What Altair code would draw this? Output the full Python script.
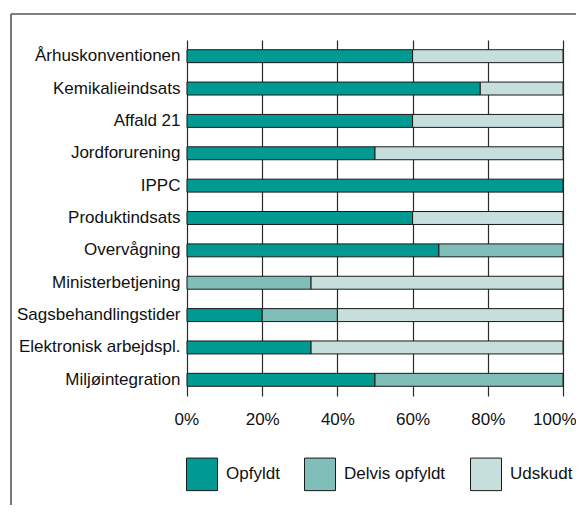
import altair as alt
import pandas as pd

categories = [
    "Århuskonventionen", "Kemikalieindsats", "Affald 21", "Jordforurening", "IPPC",
    "Produktindsats", "Overvågning", "Ministerbetjening", "Sagsbehandlingstider",
    "Elektronisk arbejdspl.", "Miljøintegration",
]
series = ["Opfyldt", "Delvis opfyldt", "Udskudt"]
opfyldt = [60, 78, 60, 50, 100, 60, 67, 0, 20, 33, 50]
delvis = [0, 0, 0, 0, 0, 0, 33, 33, 20, 0, 50]
udskudt = [40, 22, 40, 50, 0, 40, 0, 67, 60, 67, 0]
x_ticks = [0, 20, 40, 60, 80, 100]
colors = ["#009a93", "#80bfb9", "#c6dfdc"]

rows = []
for i, c in enumerate(categories):
    for j, (s, vals) in enumerate(zip(series, [opfyldt, delvis, udskudt])):
        if vals[i] > 0:
            rows.append({"kategori": c, "status": s, "pct": vals[i], "ord": j})
df = pd.DataFrame(rows)

FONT = "Liberation Sans"

bars = alt.Chart(df).mark_bar(stroke="#1a1a1a", strokeWidth=1).encode(
    y=alt.Y("kategori:N", sort=categories, title=None,
            scale=alt.Scale(paddingInner=0.6, paddingOuter=0.3),
            axis=alt.Axis(ticks=False, domain=False, labelPadding=7,
                          labelFontSize=17, labelFont=FONT, labelColor="#111")),
    x=alt.X("pct:Q", stack="zero", title=None,
            scale=alt.Scale(domain=[0, 100], nice=False),
            axis=alt.Axis(values=x_ticks, labelExpr="datum.value + '%'",
                          ticks=False, domain=False, grid=True,
                          gridColor="#2a2a2a", gridWidth=1.2,
                          labelPadding=15, labelFontSize=17, labelFont=FONT,
                          labelColor="#111", labelFlush=True, labelFlushOffset=13)),
    color=alt.Color("status:N", sort=series,
                    scale=alt.Scale(domain=series, range=colors),
                    legend=alt.Legend(title=None, orient="none", legendX=-1, legendY=418,
                                      direction="horizontal", columns=3,
                                      symbolType="M-1,-1.05H1V1.05H-1Z", symbolSize=961,
                                      symbolStrokeColor="#1a1a1a", symbolStrokeWidth=1,
                                      labelFontSize=17, labelFont=FONT, labelColor="#111",
                                      labelOffset=8, columnPadding=22, padding=0)),
    order=alt.Order("ord:Q"),
)

frame_data = alt.Data(values=[{"k": 1}])
top_line = alt.Chart(frame_data).mark_rule(color="#555", strokeWidth=1.6).encode(
    x=alt.value(-176), x2=alt.value(400), y=alt.value(-26)
)
left_line = alt.Chart(frame_data).mark_rule(color="#555", strokeWidth=1.6).encode(
    x=alt.value(-176), y=alt.value(-26), y2=alt.value(480)
)

chart = alt.layer(bars, top_line, left_line).properties(
    width=376, height=356,
    autosize=alt.AutoSizeParams(type="none"),
    padding={"left": 179, "top": 32, "right": 13, "bottom": 109},
).configure_view(stroke=None)

chart.save("out.html", embed_options={"renderer": "svg", "actions": False})
